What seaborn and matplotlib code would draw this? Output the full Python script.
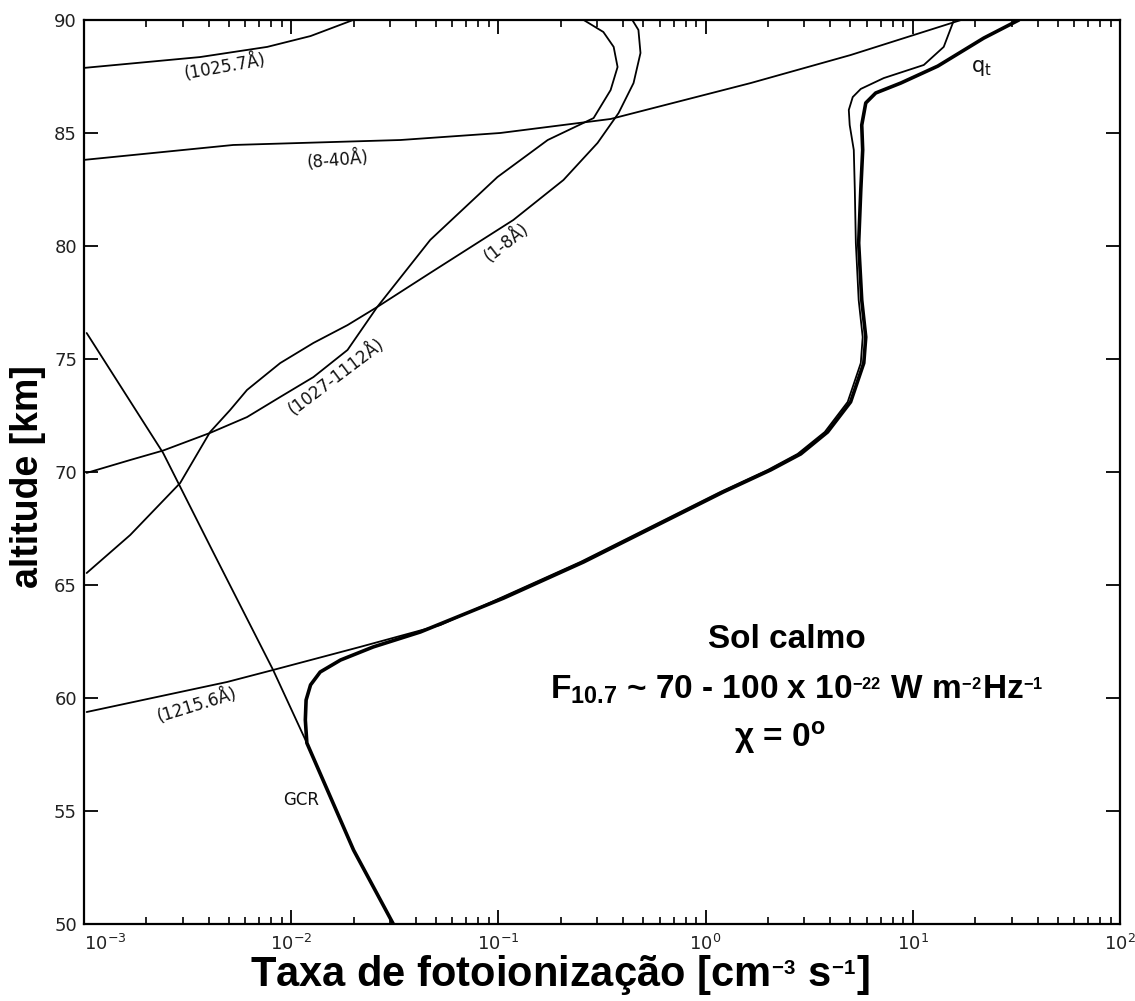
import matplotlib
matplotlib.use("Agg")
import matplotlib.pyplot as plt
import matplotlib.ticker as mticker
import seaborn as sns

# ---------------- data ----------------
rate_1025 = [1.0e-3, 3.63e-3, 7.66e-3, 1.24e-2, 1.99e-2]
alt_1025 = [87.88, 88.36, 88.81, 89.29, 90.0]

rate_8_40 = [1.0e-3, 5.25e-3, 3.37e-2, 0.102, 0.348, 1.65, 5.01, 17.1]
alt_8_40 = [83.81, 84.47, 84.69, 85.0, 85.62, 87.21, 88.45, 90.0]

rate_1_8 = [1.03e-3, 1.67e-3, 2.91e-3, 4.06e-3, 5.07e-3, 6.12e-3, 8.85e-3, 1.28e-2,
            1.87e-2, 2.60e-2, 4.69e-2, 0.118, 0.206, 0.301, 0.380, 0.449, 0.485, 0.474, 0.443]
alt_1_8 = [65.53, 67.21, 69.51, 71.77, 72.74, 73.63, 74.82, 75.71, 76.50, 77.30,
           78.81, 81.15, 82.92, 84.56, 85.88, 87.21, 88.54, 89.56, 90.0]

rate_1027 = [1.03e-3, 1.67e-3, 2.41e-3, 4.06e-3, 6.12e-3, 8.85e-3, 1.28e-2, 1.87e-2,
             2.60e-2, 4.69e-2, 0.0989, 0.173, 0.288, 0.348, 0.376, 0.360, 0.321, 0.258]
alt_1027 = [69.96, 70.53, 70.95, 71.73, 72.43, 73.32, 74.20, 75.40, 77.30, 80.27,
            83.05, 84.69, 85.66, 86.90, 87.92, 88.81, 89.47, 90.0]

rate_gcr = [1.03e-3, 2.41e-3, 4.15e-3, 8.18e-3, 1.19e-2, 2.0e-2, 3.11e-2]
alt_gcr = [76.15, 70.84, 66.55, 61.24, 58.01, 53.27, 50.0]

rate_lya = [1.03e-3, 4.91e-3, 8.18e-3, 2.15e-2, 5.25e-2, 0.102, 0.249, 0.542, 1.18,
            1.995, 2.78, 3.76, 4.85, 5.61, 5.73, 5.48, 5.31, 5.25, 5.19, 4.96, 4.91,
            5.13, 5.61, 7.24, 11.3, 14.1, 15.8]
alt_lya = [59.38, 60.71, 61.24, 62.26, 63.23, 64.42, 66.02, 67.57, 69.12, 70.09,
           70.80, 71.77, 73.10, 74.82, 75.97, 77.61, 80.13, 82.48, 84.25, 85.35,
           86.02, 86.59, 86.95, 87.43, 88.01, 88.81, 90.0]

rate_qt = [3.11e-2, 2.0e-2, 1.19e-2, 1.17e-2, 1.18e-2, 1.24e-2, 1.38e-2, 1.73e-2,
           2.49e-2, 4.20e-2, 0.106, 0.258, 0.561, 1.22, 2.06, 2.88, 3.88, 5.01, 5.80,
           5.93, 5.67, 5.48, 5.61, 5.73, 5.67, 5.93, 6.62, 8.75, 13.2, 22.0, 32.5]
alt_qt = [50.0, 53.27, 58.01, 59.03, 59.91, 60.58, 61.15, 61.68, 62.26, 62.92, 64.42,
          66.02, 67.57, 69.12, 70.09, 70.80, 71.77, 73.10, 74.82, 75.97, 77.61, 80.13,
          82.48, 84.25, 85.35, 86.33, 86.77, 87.21, 87.96, 89.20, 90.0]

x_ticks = [1e-3, 1e-2, 1e-1, 1e0, 1e1, 1e2]
x_ticklabels = [r"$\mathregular{10^{-3}}$", r"$\mathregular{10^{-2}}$", r"$\mathregular{10^{-1}}$",
                r"$\mathregular{10^{0}}$", r"$\mathregular{10^{1}}$", r"$\mathregular{10^{2}}$"]
y_ticks = [50, 55, 60, 65, 70, 75, 80, 85, 90]

# ---------------- figure ----------------
sns.set_theme(style="ticks")
plt.rcParams["font.family"] = ["DejaVu Sans"]

fig = plt.figure(figsize=(11.35, 10.01), dpi=100)
ax = fig.add_axes([84 / 1135, 1 - 924 / 1001, 1036 / 1135, 904 / 1001])

thin = 1.3
thick = 2.6
curves = [
    (rate_1025, alt_1025, thin),
    (rate_8_40, alt_8_40, thin),
    (rate_1_8, alt_1_8, thin),
    (rate_1027, alt_1027, thin),
    (rate_gcr, alt_gcr, thin),
    (rate_lya, alt_lya, thin),
    (rate_qt, alt_qt, thick),
]
for xs, ys, lw in curves:
    sns.lineplot(x=xs, y=ys, sort=False, estimator=None, color="black",
                 linewidth=lw, ax=ax)

ax.set_xscale("log")
ax.set_xlim(1e-3, 1e2)
ax.set_ylim(50, 90)

ax.xaxis.set_major_locator(mticker.FixedLocator(x_ticks))
ax.xaxis.set_minor_locator(mticker.LogLocator(base=10, subs=range(2, 10), numticks=20))
ax.xaxis.set_minor_formatter(mticker.NullFormatter())
ax.set_xticks(x_ticks)
ax.set_xticklabels(x_ticklabels)
ax.set_yticks(y_ticks)
ax.set_yticklabels([str(v) for v in y_ticks])

ax.tick_params(axis="both", which="major", direction="in", top=True, right=True,
               length=10, width=1.3, color="black", labelsize=13, labelcolor="#222222", pad=5)
ax.tick_params(axis="x", which="major", pad=7)
ax.tick_params(axis="x", which="minor", direction="in", top=True, bottom=True,
               length=5, width=1.2, color="black")
ax.tick_params(axis="y", which="minor", left=False, right=False)
first = ax.get_xticklabels()[0]
first.set_horizontalalignment("left")

for sp in ax.spines.values():
    sp.set_visible(True)
    sp.set_color("black")
    sp.set_linewidth(1.6)
ax.grid(False)

# axis labels
bold = dict(family=["Liberation Sans", "DejaVu Sans"], weight="bold", color="black")
ax.set_xlabel(r"Taxa de fotoionização [cm$\mathregular{^{_{-3}}}$ s$\mathregular{^{_{-1}}}$]",
              fontsize=30, va="center", **bold)
ax.xaxis.set_label_coords((560 - 84) / 1036, (924 - 975) / 904)
ax.set_ylabel("altitude [km]", fontsize=27, va="center", **bold)
ax.yaxis.set_label_coords((28 - 84) / 1036, (924 - 477) / 904)

# curve annotations
lab = dict(family=["DejaVu Sans"], fontsize=12, color="#111111", ha="center", va="center")
ax.text(4.8e-3, 87.96, "(1025.7Å)", rotation=10, **lab)
ax.text(1.67e-2, 83.81, "(8-40Å)", rotation=5, **lab)
ax.text(0.109, 80.18, "(1-8Å)", rotation=38, **lab)
ax.text(1.65e-2, 74.25, "(1027-1112Å)", rotation=37, **lab)
ax.text(3.52e-3, 59.69, "(1215.6Å)", rotation=17, **lab)
ax.text(1.12e-2, 55.49, "GCR", rotation=0, **lab)
ax.text(21.5, 87.88, r"$\mathregular{q_t}$", rotation=0, fontsize=15,
        family=["DejaVu Sans"], color="#111111", ha="center", va="center")

# conditions text block
blk = dict(ha="center", va="center", fontsize=24, transform=fig.transFigure, **bold)
fig.text(787 / 1135, 1 - 640 / 1001, "Sol calmo", **blk)
fig.text(797 / 1135, 1 - 690 / 1001,
         r"F$\mathregular{_{10.7}}$ ~ 70 - 100 x 10$\mathregular{^{_{-22}}}$ W m$\mathregular{^{_{-2}}}$Hz$\mathregular{^{_{-1}}}$",
         **blk)
fig.text(780 / 1135, 1 - 738 / 1001, r"χ = 0$\mathregular{^{o}}$", **blk)

fig.savefig("out.png", dpi=100, facecolor="white")
